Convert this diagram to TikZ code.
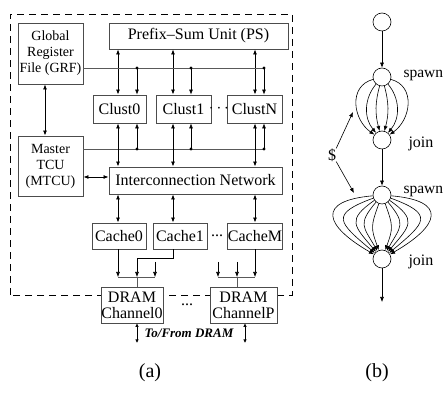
\documentclass[tikz,border=0pt]{standalone}
\usepackage{fontspec}
\setmainfont{Liberation Serif}
\usetikzlibrary{arrows.meta, positioning}

\begin{document}
\begin{tikzpicture}[
  x=1pt, y=1pt,
  box/.style={draw=black!70, line width=0.9pt, fill=white, inner sep=0pt,
    align=center, font=\fontsize{16}{16}\selectfont},
  sbox/.style={box, font=\fontsize{14}{16}\selectfont},
  task/.style={draw, circle, minimum size=18pt, inner sep=0pt, line width=0.6pt},
  lbl/.style={inner sep=0pt, font=\fontsize{16}{16}\selectfont},
  arr/.style={-{Latex[length=5pt,width=4pt]}, line width=0.6pt},
  darr/.style={{Latex[length=5pt,width=4pt]}-{Latex[length=5pt,width=4pt]}, line width=0.8pt},
  sdarr/.style={{Latex[length=3.5pt,width=3.5pt]}-{Latex[length=3.5pt,width=3.5pt]}, line width=0.6pt},
  bus/.style={line width=0.9pt, draw=black!65}
]
  \useasboundingbox (0,0) rectangle (445,393);

  % (a) the chip
  \draw[dashed, dash pattern=on 7pt off 5pt, line width=0.8pt] (10,98) rectangle (292,379);

  \node[sbox, minimum width=65pt, minimum height=61pt] (grf) at (50.5,339.5) {Global\\Register\\File (GRF)};
  \node[box, minimum width=179pt, minimum height=26pt] (ps) at (198.5,357) {Prefix--Sum Unit (PS)};
  \node[box, minimum width=53pt, minimum height=28pt] (clust0) at (119.5,284) {Clust0};
  \node[box, minimum width=55pt, minimum height=28pt] (clust1) at (183.5,284) {Clust1};
  \node[box, minimum width=55pt, minimum height=28pt] (clustN) at (254.5,284) {ClustN};
  \node[lbl] (cdots) at (219,284) {$\cdots$};
  \node[sbox, minimum width=65pt, minimum height=60pt] (mtcu) at (50.5,227) {Master\\TCU\\(MTCU)};
  \node[box, minimum width=173pt, minimum height=27pt] (icn) at (195.5,212.5) {Interconnection Network};
  \node[box, minimum width=54pt, minimum height=26pt] (cache0) at (119,157) {Cache0};
  \node[box, minimum width=54pt, minimum height=26pt] (cache1) at (180,157) {Cache1};
  \node[box, minimum width=54pt, minimum height=26pt] (cacheM) at (255,157) {CacheM};
  \node[lbl] (kdots) at (217,157) {...};
  \node[box, minimum width=62pt, minimum height=36pt] (dram0) at (132,88) {DRAM\\Channel0};
  \node[box, minimum width=67pt, minimum height=36pt] (dramP) at (243.5,88) {DRAM\\ChannelP};
  \node[lbl] (ddots) at (187,88) {...};

  \coordinate (k0) at (118,0);
  \coordinate (k1) at (173,0);
  \coordinate (kN) at (255,0);
  \coordinate (b0) at (137,325);
  \coordinate (b1) at (191,325);
  \coordinate (bN) at (264,325);
  \coordinate (m0) at (137,244);
  \coordinate (m1) at (191,244);
  \coordinate (mN) at (264,244);

  \draw[darr] (ps.south -| k0) -- (clust0.north -| k0);
  \draw[darr] (ps.south -| k1) -- (clust1.north -| k1);
  \draw[darr] (ps.south -| kN) -- (clustN.north -| kN);
  \draw[bus] (grf.east |- b0) -- (bN);
  \draw[bus] (mtcu.east |- m0) -- (mN);
  \foreach \b/\c in {b0/clust0, b1/clust1, bN/clustN}{
    \fill (\b) circle (1.7pt);
    \draw[arr] (\b) -- (\b |- \c.north);
  }
  \foreach \m/\c in {m0/clust0, m1/clust1, mN/clustN}{
    \fill (\m) circle (1.7pt);
    \draw[arr] (\m) -- (\m |- \c.south);
  }
  \draw[darr] (clust0.south -| k0) -- (icn.north -| k0);
  \draw[darr] (clust1.south -| k1) -- (icn.north -| k1);
  \draw[darr] (clustN.south -| kN) -- (icn.north -| kN);
  \draw[darr] ([xshift=-5.5pt]grf.south) -- ([xshift=-5.5pt]mtcu.north);
  \draw[darr] ([yshift=3.5pt]icn.west) -- ([yshift=3.5pt]icn.west -| mtcu.east);
  \draw[darr] (icn.south -| k0) -- (cache0.north -| k0);
  \draw[darr] (icn.south -| k1) -- (cache1.north -| k1);
  \draw[darr] (icn.south -| kN) -- (cacheM.north -| kN);

  % caches to DRAM channels
  \coordinate (q0) at (137,116);
  \coordinate (qP) at (237,116);
  \coordinate (s0) at (155,131);
  \coordinate (sP) at (218,131);
  \coordinate (sP2) at (237,131);
  \draw[arr] (cache0.south -| k0) -- (k0 |- q0);
  \draw[arr] (cache1.south -| k1) -- ++(0,-9) -| (q0);
  \draw[arr] (s0) -- (s0 |- q0);
  \draw[bus] (k0 |- q0) -- (s0 |- q0);
  \draw[bus] (q0) -- (dram0.north -| q0);
  \draw[arr] (sP) -- (sP |- qP);
  \draw[arr] (sP2) -- (qP);
  \draw[arr] (cacheM.south -| kN) -- (kN |- qP);
  \draw[bus] (sP |- qP) -- (kN |- qP);
  \draw[bus] (qP) -- (dramP.north -| qP);

  \coordinate (ext0) at (137,50);
  \coordinate (extP) at (245,50);
  \draw[sdarr] (dram0.south -| ext0) -- (ext0);
  \draw[sdarr] (dramP.south -| extP) -- (extP);
  \node[font=\bfseries\itshape\fontsize{13}{13}\selectfont] (ext) at (189,60) {To/From DRAM};

  \node[font=\fontsize{20}{20}\selectfont] (capa) at (150,20) {(a)};

  % (b) spawn-join
  \node[task] (t0) at (382,371) {};
  \node[task] (s1) at (382,316) {};
  \node[task] (j1) at (382,253) {};
  \node[task] (s2) at (382,198) {};
  \node[task] (j2) at (382,134) {};
  \coordinate (tend) at (382,91);
  \node[lbl, right=12pt of s1, yshift=1pt, font=\fontsize{15.5}{16}\selectfont] (spawn1) {spawn};
  \node[lbl, right=17pt of j1, yshift=-4pt] (join1) {join};
  \node[lbl, right=12pt of s2, yshift=3pt, font=\fontsize{15.5}{16}\selectfont] (spawn2) {spawn};
  \node[lbl, right=17pt of j2, yshift=-3pt] (join2) {join};

  \draw[arr] (t0) -- (s1);
  \draw[arr] (j1) -- (s2);
  \draw[arr] (j2) -- (tend);
  \foreach \o/\i/\l [evaluate=\o as \oo using 180-\o, evaluate=\i as \ii using 180-\i] in
    {195/145/1.2, 230/130/1.0, 255/105/1.0}{
    \draw[arr] (s1) to[out=\o, in=\i, looseness=\l] (j1);
    \draw[arr] (s1) to[out=\oo, in=\ii, looseness=\l] (j1);
  }
  \foreach \o/\i/\l [evaluate=\o as \oo using 180-\o, evaluate=\i as \ii using 180-\i] in
    {185/150/2.5, 200/140/2.2, 215/130/1.7, 230/120/1.5, 250/110/1.3}{
    \draw[arr] (s2) to[out=\o, in=\i, looseness=\l] (j2);
    \draw[arr] (s2) to[out=\oo, in=\ii, looseness=\l] (j2);
  }

  \node[lbl] (dollar) at (332,238) {\$};
  \coordinate (h1) at (353,281);
  \coordinate (h2) at (354,200);
  \draw[arr] (dollar.north east) -- (h1);
  \draw[arr] (dollar.south east) -- (h2);

  \node[font=\fontsize{20}{20}\selectfont] (capb) at (377,20) {(b)};
\end{tikzpicture}
\end{document}
